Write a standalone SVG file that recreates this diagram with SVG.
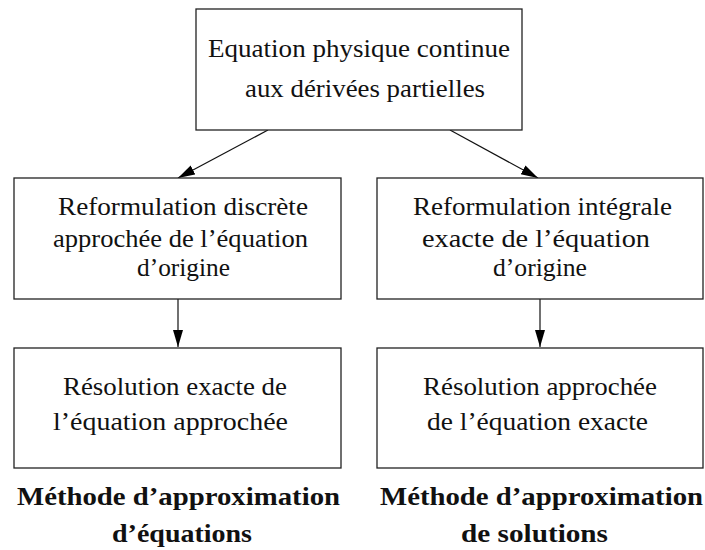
<svg xmlns="http://www.w3.org/2000/svg" width="705" height="550" viewBox="0 0 705 550">
<style>
.box{fill:#fff;stroke:#222;stroke-width:1.3}
.t{font-family:"Liberation Serif","Times New Roman",serif;font-size:26px;fill:#111;text-anchor:start}
.b{font-family:"Liberation Serif","Times New Roman",serif;font-size:26px;font-weight:bold;fill:#111;text-anchor:start}
.c{stroke:#111;stroke-width:1.2;fill:none}
</style>
<defs>
<marker id="arr" markerUnits="userSpaceOnUse" markerWidth="18" markerHeight="12" refX="17" refY="5" orient="auto">
<path d="M0,0 L17,5 L0,10 z" fill="#000"/>
</marker>
</defs>
<rect width="705" height="550" fill="#fff"/>
<g id="connectors">
<line class="c" x1="268" y1="130" x2="178" y2="178" marker-end="url(#arr)"/>
<line class="c" x1="450" y1="130" x2="538" y2="178" marker-end="url(#arr)"/>
<line class="c" x1="178" y1="299" x2="178" y2="347" marker-end="url(#arr)"/>
<line class="c" x1="540" y1="299" x2="540" y2="347" marker-end="url(#arr)"/>
</g>
<g id="top">
<rect class="box" x="196" y="9" width="326" height="121"/>
<text class="t" x="208" y="57" textLength="302" lengthAdjust="spacingAndGlyphs">Equation physique continue</text>
<text class="t" x="245" y="97" textLength="240" lengthAdjust="spacingAndGlyphs">aux dérivées partielles</text>
</g>
<g id="left-mid">
<rect class="box" x="14" y="178" width="327" height="121"/>
<text class="t" x="58" y="215" textLength="250" lengthAdjust="spacingAndGlyphs">Reformulation discrète</text>
<text class="t" x="53" y="247" textLength="255" lengthAdjust="spacingAndGlyphs">approchée de l’équation</text>
<text class="t" x="137" y="276" textLength="93" lengthAdjust="spacingAndGlyphs">d’origine</text>
</g>
<g id="right-mid">
<rect class="box" x="377" y="178" width="326" height="121"/>
<text class="t" x="413" y="215" textLength="259" lengthAdjust="spacingAndGlyphs">Reformulation intégrale</text>
<text class="t" x="422" y="247" textLength="228" lengthAdjust="spacingAndGlyphs">exacte de l’équation</text>
<text class="t" x="493" y="276" textLength="94" lengthAdjust="spacingAndGlyphs">d’origine</text>
</g>
<g id="left-bottom">
<rect class="box" x="14" y="348" width="327" height="120"/>
<text class="t" x="63" y="395" textLength="224" lengthAdjust="spacingAndGlyphs">Résolution exacte de</text>
<text class="t" x="53" y="430" textLength="235" lengthAdjust="spacingAndGlyphs">l’équation approchée</text>
</g>
<g id="right-bottom">
<rect class="box" x="377" y="348" width="326" height="120"/>
<text class="t" x="423" y="395" textLength="234" lengthAdjust="spacingAndGlyphs">Résolution approchée</text>
<text class="t" x="427" y="430" textLength="221" lengthAdjust="spacingAndGlyphs">de l’équation exacte</text>
</g>
<g id="caption-left">
<text class="b" x="17" y="505" textLength="323" lengthAdjust="spacingAndGlyphs">Méthode d’approximation</text>
<text class="b" x="112" y="542" textLength="140" lengthAdjust="spacingAndGlyphs">d’équations</text>
</g>
<g id="caption-right">
<text class="b" x="380" y="505" textLength="323" lengthAdjust="spacingAndGlyphs">Méthode d’approximation</text>
<text class="b" x="461" y="542" textLength="147" lengthAdjust="spacingAndGlyphs">de solutions</text>
</g>
</svg>
